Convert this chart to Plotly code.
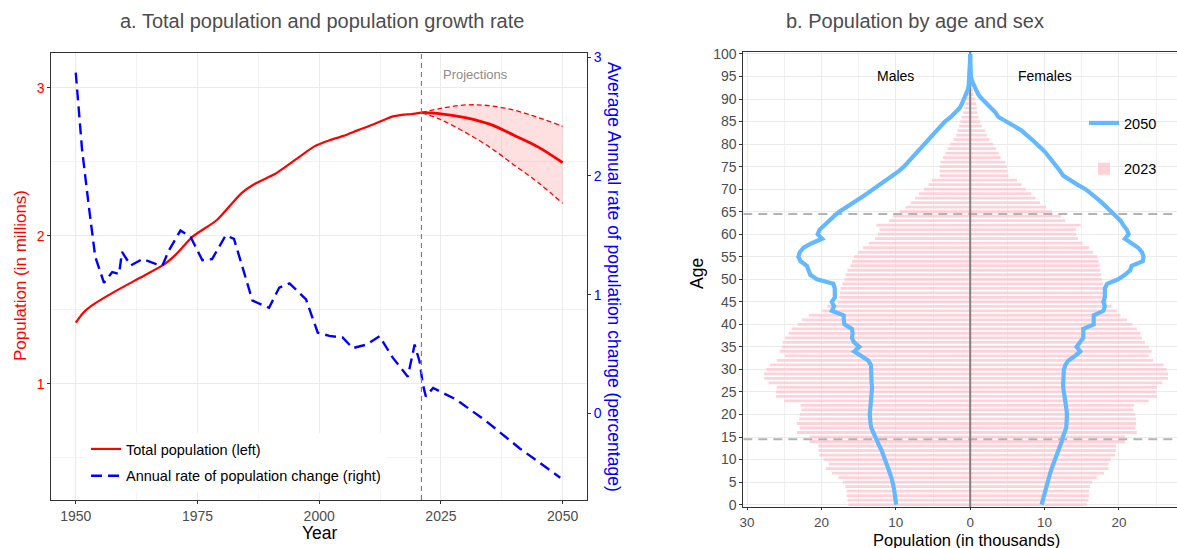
import plotly.graph_objects as go

# ---- panel a : total population (millions) and annual growth rate (%) ----
pop_years = [1950, 1951.5, 1953.5, 1958, 1963, 1968, 1970.5, 1974, 1979, 1984, 1987, 1991, 1996,
             1999, 2002, 2005, 2008, 2010, 2013, 2015, 2017, 2019, 2021]
pop_hist = [1.414, 1.48, 1.534, 1.624, 1.714, 1.804, 1.872, 1.995, 2.108, 2.288, 2.356, 2.42, 2.536,
            2.605, 2.645, 2.676, 2.715, 2.739, 2.78, 2.806, 2.818, 2.824, 2.833]

proj_years = [2021, 2025, 2030, 2035, 2040, 2045, 2050]
pop_median = [2.833, 2.825, 2.80, 2.755, 2.68, 2.60, 2.495]
pop_upper = [2.833, 2.862, 2.885, 2.88, 2.85, 2.80, 2.74]
pop_lower = [2.833, 2.785, 2.70, 2.60, 2.48, 2.36, 2.22]

rate_years = [1950, 1951.3, 1952.7, 1954, 1955.8, 1957.5, 1958.9, 1959.5, 1961.3, 1963.7, 1966.4,
              1967.8, 1969.1, 1971.5, 1973.6, 1976, 1978, 1980.8, 1982.5, 1984.2, 1986.3, 1989.7,
              1991.8, 1993.9, 1995.6, 1997.3, 1999.7, 2002.1, 2004.8, 2006.9, 2009.7, 2012.4,
              2015.1, 2018.2, 2019.6, 2020.6, 2021.3, 2021.9, 2023.4, 2028.2, 2034.4, 2041.2, 2049.5]
rate = [2.87, 2.22, 1.74, 1.32, 1.10, 1.19, 1.175, 1.36, 1.246, 1.30, 1.26,
        1.246, 1.37, 1.54, 1.486, 1.29, 1.30, 1.50, 1.47, 1.23, 0.95, 0.89,
        1.06, 1.096, 1.03, 0.96, 0.68, 0.653, 0.64, 0.55, 0.58, 0.65,
        0.47, 0.31, 0.58, 0.44, 0.243, 0.144, 0.215, 0.116, -0.068, -0.294, -0.54]

# ---- panel b : population by single year of age (thousands) ----
ages = list(range(0, 101))
males_2023 = [16.35, 16.5, 16.6, 16.6, 16.8, 17.1, 17.7, 18.6, 19.4, 19.0,
              19.7, 20.3, 20.4, 20.4, 21.6, 21.6, 23.3, 22.9, 23.3, 23.0,
              22.9, 22.7, 22.8, 25.0, 26.1, 26.1, 26.0, 27.1, 27.7, 27.7,
              27.4, 26.9, 26.0, 24.9, 25.6, 25.3, 25.2, 24.9, 24.4, 24.0,
              23.2, 22.6, 21.7, 19.9, 19.2, 17.8, 17.6, 17.5, 17.4, 17.2,
              16.9, 16.75, 16.5, 16.1, 15.9, 15.6, 15.1, 14.4, 13.6, 12.8,
              12.4, 12.2, 12.6, 10.9, 10.4, 9.5, 8.7, 8.0, 7.4, 6.9,
              6.2, 5.6, 5.15, 4.1, 4.1, 4.1, 4.0, 3.67, 3.36, 3.05,
              2.69, 2.24, 1.88, 1.7, 1.48, 1.34, 1.16, 0.98, 0.8, 0.67,
              0.54, 0.45, 0.3, 0.2, 0.15, 0.1, 0.08, 0.05, 0.03, 0.02, 0.02]
females_2023 = [15.7, 15.9, 16.0, 16.0, 16.1, 16.4, 17.0, 18.0, 18.6, 18.6,
                18.9, 19.5, 19.6, 19.6, 20.8, 20.8, 22.4, 22.2, 22.3, 22.3,
                22.2, 21.95, 22.0, 24.0, 25.1, 25.0, 25.1, 25.8, 26.6, 26.6,
                26.4, 26.0, 24.6, 24.0, 24.4, 24.0, 23.5, 23.1, 22.9, 22.4,
                21.8, 21.1, 20.2, 19.7, 19.0, 18.4, 18.15, 18.0, 17.9, 17.9,
                17.7, 17.6, 17.5, 17.4, 17.25, 17.1, 16.5, 16.0, 15.1, 14.5,
                14.25, 14.2, 14.85, 12.8, 12.2, 11.0, 10.2, 9.4, 8.8, 8.2,
                7.5, 6.9, 6.3, 5.15, 5.0, 4.95, 4.7, 4.1, 3.8, 3.5,
                3.05, 2.6, 2.24, 2.0, 1.61, 1.34, 1.12, 0.98, 0.9, 0.8,
                0.67, 0.45, 0.35, 0.25, 0.18, 0.12, 0.08, 0.05, 0.03, 0.02, 0.02]
males_2050 = [9.95, 10.0, 10.1, 10.2, 10.3, 10.4, 10.6, 10.8, 11.0, 11.2,
              11.4, 11.65, 11.9, 12.2, 12.5, 12.8, 13.1, 13.3, 13.4, 13.5,
              13.5, 13.45, 13.4, 13.3, 13.25, 13.2, 13.2, 13.25, 13.3, 13.3,
              13.3, 13.35, 13.7, 14.6, 15.6, 14.9, 15.6, 15.9, 15.8, 15.9,
              16.9, 17.0, 17.0, 18.6, 18.3, 18.6, 18.2, 18.2, 18.2, 18.4,
              20.6, 21.5, 21.7, 21.95, 22.8, 23.1, 22.9, 22.4, 21.3, 19.9,
              20.5, 20.25, 19.6, 19.0, 18.3, 17.6, 16.6, 15.7, 14.8, 13.9,
              13.0, 12.1, 11.2, 10.3, 9.6, 8.9, 8.35, 7.8, 7.25, 6.7,
              6.2, 5.6, 5.05, 4.5, 3.95, 3.4, 2.6, 1.9, 1.4, 1.1,
              0.8, 0.5, 0.35, 0.2, 0.15, 0.1, 0.05, 0.03, 0.02, 0.01, 0.0]
females_2050 = [9.6, 9.75, 9.9, 10.1, 10.25, 10.4, 10.6, 10.75, 10.95, 11.2,
                11.4, 11.65, 11.9, 12.1, 12.3, 12.45, 12.7, 12.9, 12.95, 13.0,
                13.0, 12.95, 12.85, 12.75, 12.6, 12.5, 12.5, 12.5, 12.5, 12.55,
                12.6, 12.8, 13.2, 14.1, 14.8, 14.3, 14.8, 15.2, 15.2, 15.2,
                16.6, 16.6, 16.6, 17.9, 18.1, 17.9, 18.1, 18.1, 18.1, 18.4,
                19.9, 20.8, 21.5, 21.7, 23.2, 23.3, 23.1, 22.6, 21.7, 20.8,
                21.3, 21.05, 20.6, 20.2, 19.6, 19.0, 18.4, 17.7, 17.0, 16.25,
                15.5, 14.4, 13.4, 12.5, 12.1, 11.65, 11.2, 10.75, 10.2, 9.6,
                9.0, 8.3, 7.6, 6.9, 5.9, 4.9, 3.8, 3.4, 2.7, 2.2,
                1.6, 1.1, 0.8, 0.45, 0.25, 0.1, 0.05, 0.03, 0.02, 0.01, 0.0]

W, H = 1177, 548
FONT = "Liberation Sans, Arial, sans-serif"
PINK = "rgba(255,192,203,0.72)"
SKY = "#63B8FF"
TICK = 14


def px_x(p):
    return p / W


def px_y(p):
    return 1 - p / H


fig = go.Figure()

# --- panel a traces ---
fig.add_trace(go.Scatter(x=proj_years, y=pop_upper, mode="lines", xaxis="x", yaxis="y",
                         line=dict(color="red", width=1.3, dash="5px,3px", shape="spline"),
                         showlegend=False, hoverinfo="skip"))
fig.add_trace(go.Scatter(x=proj_years, y=pop_lower, mode="lines", xaxis="x", yaxis="y",
                         line=dict(color="red", width=1.3, dash="5px,3px", shape="spline"),
                         fill="tonexty", fillcolor="rgba(255,0,0,0.12)",
                         showlegend=False, hoverinfo="skip"))
fig.add_trace(go.Scatter(x=proj_years, y=pop_median, mode="lines", xaxis="x", yaxis="y",
                         line=dict(color="red", width=2.8, shape="spline"),
                         showlegend=False))
fig.add_trace(go.Scatter(x=pop_years, y=pop_hist, mode="lines", xaxis="x", yaxis="y",
                         line=dict(color="red", width=2.2, shape="spline", smoothing=0.6),
                         name="Total population (left)", legend="legend",
                         legendgroup="pop"))
fig.add_trace(go.Scatter(x=rate_years, y=rate, mode="lines", xaxis="x", yaxis="y2",
                         line=dict(color="blue", width=2.4, dash="11px,6px"),
                         name="Annual rate of population change (right)", legend="legend",
                         legendgroup="rate"))

# --- panel b traces ---
fig.add_trace(go.Bar(y=ages, x=[-v for v in males_2023], orientation="h", width=0.62,
                     marker=dict(color=PINK, line=dict(width=0)), xaxis="x2", yaxis="y3",
                     name="2023", legend="legend2", legendgroup="b23", legendrank=2))
fig.add_trace(go.Bar(y=ages, x=females_2023, orientation="h", width=0.62,
                     marker=dict(color=PINK, line=dict(width=0)), xaxis="x2", yaxis="y3",
                     name="2023", legend="legend2", legendgroup="b23", showlegend=False))
for age_cut in [64.5, 14.5]:
    fig.add_trace(go.Scatter(x=[-30.5, 27.8], y=[age_cut, age_cut], mode="lines",
                             xaxis="x2", yaxis="y3",
                             line=dict(color="#B3B3B3", width=2, dash="9px,6px"),
                             showlegend=False, hoverinfo="skip"))
fig.add_trace(go.Scatter(x=[0, 0], y=[-0.6, 100.5], mode="lines", xaxis="x2", yaxis="y3",
                         line=dict(color="#7F7F7F", width=2), showlegend=False, hoverinfo="skip"))
fig.add_trace(go.Scatter(y=ages, x=[-v for v in males_2050], mode="lines", xaxis="x2", yaxis="y3",
                         line=dict(color=SKY, width=4.2), name="2050", legend="legend2",
                         legendgroup="b50", legendrank=1))
fig.add_trace(go.Scatter(y=ages, x=females_2050, mode="lines", xaxis="x2", yaxis="y3",
                         line=dict(color=SKY, width=4.2), name="2050", legend="legend2",
                         legendgroup="b50", showlegend=False))

axis_common = dict(showline=True, linecolor="#333333", linewidth=1, mirror=True,
                   ticks="outside", ticklen=3, tickcolor="#333333", automargin=False,
                   gridcolor="#EBEBEB", gridwidth=1, zeroline=False,
                   tickfont=dict(size=TICK, color="#4D4D4D", family=FONT))

fig.update_layout(
    width=W, height=H,
    margin=dict(l=0, r=0, t=0, b=0, pad=0),
    paper_bgcolor="white", plot_bgcolor="white",
    font=dict(family=FONT, size=13, color="black"),
    barmode="overlay",
    xaxis=dict(axis_common, domain=[px_x(51.4), px_x(587)], range=[1945, 2055],
               tickvals=[1950, 1975, 2000, 2025, 2050], anchor="y",
               minor=dict(dtick=12.5, tick0=1950, showgrid=True, gridcolor="#F2F2F2", ticks="")),
    yaxis=dict(axis_common, domain=[px_y(500), px_y(52.7)], range=[0.216, 3.238],
               tickvals=[1, 2, 3], anchor="x",
               tickfont=dict(size=TICK, color="red", family=FONT),
               minor=dict(dtick=0.5, tick0=0, showgrid=True, gridcolor="#F2F2F2", ticks="")),
    yaxis2=dict(overlaying="y", side="right", anchor="x", range=[-0.728, 3.037],
                tickvals=[0, 1, 2, 3], showgrid=False, zeroline=False, showline=True,
                linecolor="#333333", ticks="outside", ticklen=3, tickcolor="#333333",
                automargin=False, tickfont=dict(size=TICK, color="blue", family=FONT)),
    xaxis2=dict(axis_common, domain=[px_x(743.3), 1.0], range=[-30.5, 27.8], anchor="y3",
                tickvals=[-30, -20, -10, 0, 10, 20], ticktext=["30", "20", "10", "0", "10", "20"],
                ticklen=2, tickfont=dict(size=13.5, color="#4D4D4D", family=FONT),
                minor=dict(dtick=5, tick0=0, showgrid=True, gridcolor="#F0F0F0", ticks="")),
    yaxis3=dict(axis_common, domain=[px_y(507.3), px_y(51.7)], range=[-0.6, 100.5], anchor="x2",
                tickvals=list(range(0, 101, 5))),
    legend=dict(x=px_x(86), y=px_y(433), xanchor="left", yanchor="top",
                bgcolor="white", font=dict(size=14.5, color="black"),
                tracegroupgap=5, itemwidth=30),
    legend2=dict(x=px_x(1084), y=px_y(107), xanchor="left", yanchor="top",
                 bgcolor="rgba(255,255,255,0)", font=dict(size=14.5, color="black"),
                 tracegroupgap=24, itemwidth=30),
)

# reference line at the start of the projections
fig.add_shape(type="line", xref="x", yref="y domain", x0=2021, x1=2021, y0=0, y1=1,
              line=dict(color="#7F7F7F", width=1.2, dash="5px,4px"))

notes = [
    dict(text="a. Total population and population growth rate", x=px_x(322), y=px_y(21),
         font=dict(size=20, color="#4D4D4D")),
    dict(text="b. Population by age and sex", x=px_x(915), y=px_y(21),
         font=dict(size=20, color="#4D4D4D")),
    dict(text="Population (in millions)", x=px_x(20), y=px_y(276), textangle=-90,
         font=dict(size=17, color="red")),
    dict(text="Average Annual rate of population change (percentage)", x=px_x(614), y=px_y(277),
         textangle=90, font=dict(size=17.5, color="blue")),
    dict(text="Year", x=px_x(320), y=px_y(533), font=dict(size=17.5, color="black")),
    dict(text="Age", x=px_x(697), y=px_y(274), textangle=-90, font=dict(size=17.5, color="black")),
    dict(text="Population (in thousands)", x=px_x(967), y=px_y(539.5),
         font=dict(size=16.5, color="black")),
]
for n in notes:
    fig.add_annotation(xref="paper", yref="paper", showarrow=False,
                       xanchor="center", yanchor="middle", **n)

fig.add_annotation(x=2032, y=3.09, xref="x", yref="y", text="Projections", showarrow=False,
                   font=dict(size=13, color="#8C8C8C"))
fig.add_annotation(x=-10, y=95, xref="x2", yref="y3", text="Males", showarrow=False,
                   font=dict(size=14, color="black"))
fig.add_annotation(x=10, y=95, xref="x2", yref="y3", text="Females", showarrow=False,
                   font=dict(size=14, color="black"))

# the page's default body margin would push the fixed-size figure off the window
fig.write_html("out.html", config={"displayModeBar": False},
               post_script="document.body.style.margin = '0px';")
